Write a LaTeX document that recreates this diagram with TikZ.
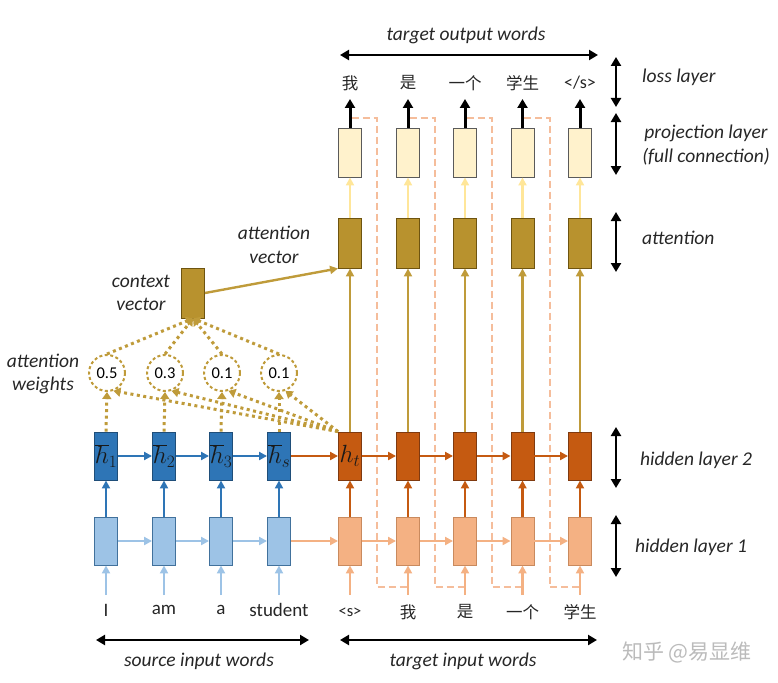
\documentclass[tikz,border=0pt]{standalone}
\usepackage{fontspec}
\setmainfont{Carlito}
\newfontfamily\cjk{Noto Sans CJK SC}
\usetikzlibrary{arrows.meta}
\definecolor{hblue}{HTML}{2E75B6}
\definecolor{hblueD}{HTML}{1F4E79}
\definecolor{lblue}{HTML}{9DC3E6}
\definecolor{lblueD}{HTML}{41719C}
\definecolor{horange}{HTML}{C55A11}
\definecolor{horangeD}{HTML}{7F3A10}
\definecolor{lorange}{HTML}{F4B183}
\definecolor{lorangeD}{HTML}{C98A5E}
\definecolor{dashor}{HTML}{F5BD9B}
\definecolor{gold}{HTML}{B8922E}
\definecolor{goldD}{HTML}{6E5410}
\definecolor{goldL}{HTML}{BF9B3A}
\definecolor{cream}{HTML}{FFF2CC}
\definecolor{creamD}{HTML}{5A5A5A}
\definecolor{lyellow}{HTML}{FFE699}
\definecolor{wm}{HTML}{BBBBBB}
\begin{document}
\begin{tikzpicture}[x=1pt,y=-1pt,
  box/.style={draw,line width=0.9pt,minimum width=23pt,minimum height=48pt,inner sep=0pt},
  ar/.style={line width=2.4pt,-{Triangle[length=8pt,width=8pt]}},
  blk/.style={line width=3pt,-{Triangle[length=9pt,width=10pt]}},
  dbl/.style={line width=2.6pt,{Triangle[length=9pt,width=10pt]}-{Triangle[length=9pt,width=10pt]}},
  dots/.style={goldL,line width=3pt,dash pattern=on 3pt off 3.5pt,-{Triangle[length=7pt,width=9pt]}},
  dsh/.style={dashor,line width=2pt,dash pattern=on 7pt off 4pt},
  wcirc/.style={circle,draw=goldL,line width=2pt,dash pattern=on 3pt off 2.5pt,minimum size=36pt,inner sep=0pt,font=\fontsize{16.5}{18}\selectfont},
  lbl/.style={font=\fontsize{19.5}{23.5}\selectfont\itshape,align=center,inner sep=0pt,text=black!85},
  word/.style={font=\fontsize{19}{20}\selectfont,inner sep=0pt,text=black!85},
  cword/.style={font=\cjk\fontsize{16.5}{18}\selectfont,inner sep=0pt,text=black!85},
  hlab/.style={font=\fontsize{24}{24}\selectfont,text=black!90}]
\useasboundingbox (0,0) rectangle (778,682);

% source columns
\foreach \x/\lab/\w [count=\i] in {106/1/I,164/2/am,221/3/a,279/s/student}{
  \node[box,fill=hblue,draw=hblueD,hlab] (s2-\i) at (\x,456) {$\overline{h}_{\lab}$};
  \node[box,fill=lblue,draw=lblueD] (s1-\i) at (\x,541) {};
  \coordinate (si-\i) at (\x,595);
  \node[word] (sw-\i) at (\x,610) {\w};
}
% target columns
\foreach \x [count=\i] in {350,408,465,522.5,580}{
  \node[box,fill=horange,draw=horangeD] (t2-\i) at (\x,456) {};
  \node[box,fill=lorange,draw=lorangeD] (t1-\i) at (\x,541) {};
  \node[box,fill=gold,draw=goldD,minimum height=50pt] (a-\i) at (\x,243) {};
  \node[box,fill=cream,draw=creamD,minimum height=49pt] (p-\i) at (\x,152.5) {};
  \coordinate (ti-\i) at (\x,595);
  \coordinate (to-\i) at (\x,99);
  \coordinate (ds-\i) at (\x+1.5,118);
  \coordinate (dc-\i) at (\x+27,118);
  \coordinate (dd-\i) at (\x+27,587);
  \coordinate (de-\i) at (\x,587);
}
\node[hlab] at (t2-1) {$h_t$};

% target input / output words
\node[word,font=\fontsize{16.5}{17}\selectfont] (tw-1) at (350,612) {<s>};
\node[cword] (tw-2) at (408,612) {我};
\node[cword] (tw-3) at (465,612) {是};
\node[cword] (tw-4) at (522.5,612) {一个};
\node[cword] (tw-5) at (580,612) {学生};
\node[cword] (ow-1) at (350,83) {我};
\node[cword] (ow-2) at (408,83) {是};
\node[cword] (ow-3) at (465,83) {一个};
\node[cword] (ow-4) at (522.5,83) {学生};
\node[word,font=\fontsize{18}{19}\selectfont] (ow-5) at (580,83) {</s>};

% dashed feedback lines
\foreach \i/\j in {1/2,2/3,3/4,4/5}
  \draw[dsh] (ds-\i) -- (dc-\i) -- (dd-\i) -- (de-\j);

% source arrows
\foreach \i in {1,...,4}{
  \draw[ar,lblue] (si-\i) -- (s1-\i);
  \draw[ar,hblue] (s1-\i) -- (s2-\i);
}
\foreach \i/\j in {1/2,2/3,3/4}{
  \draw[ar,lblue] (s1-\i) -- (s1-\j);
  \draw[ar,hblue] (s2-\i) -- (s2-\j);
}
\draw[ar,lorange] (s1-4) -- (t1-1);
\draw[ar,horange] (s2-4) -- (t2-1);

% target arrows
\foreach \i in {1,...,5}{
  \draw[ar,lorange] (ti-\i) -- (t1-\i);
  \draw[ar,horange] (t1-\i) -- (t2-\i);
  \draw[ar,goldL] (t2-\i) -- (a-\i);
  \draw[ar,lyellow] (a-\i) -- (p-\i);
  \draw[blk] (p-\i) -- (to-\i);
}
\foreach \i/\j in {1/2,2/3,3/4,4/5}{
  \draw[ar,lorange] (t1-\i) -- (t1-\j);
  \draw[ar,horange] (t2-\i) -- (t2-\j);
}

% attention weights and context
\node[box,fill=gold,draw=goldD,minimum height=50pt] (ctx) at (193,293) {};
\foreach \x/\v [count=\i] in {107/0.5,165/0.3,222/0.1,279/0.1}{
  \node[wcirc] (w-\i) at (\x,373) {\v};
}
\foreach \i in {1,...,4}{
  \draw[dots] (s2-\i.north) -- (w-\i.south);
  \draw[dots] (t2-1.north west) -- (w-\i.-70);
  \draw[dots] (w-\i.north) -- (ctx.south);
}
\draw[ar,goldL] (ctx.east) -- (a-1.south west);

% labels
\node[lbl] (lctx) at (141,293) {context\\vector};
\node[lbl] (latt) at (274,245) {attention\\vector};
\node[lbl] (lw) at (43,374) {attention\\weights};

% top and bottom ranges
\coordinate (tA) at (340,55); \coordinate (tB) at (598,55);
\draw[dbl] (tA) -- (tB);
\node[lbl] (ltop) at (466,35) {target output words};
\coordinate (bA) at (96,640); \coordinate (bB) at (309,640);
\coordinate (cA) at (340,640); \coordinate (cB) at (597,640);
\draw[dbl] (bA) -- (bB);
\draw[dbl] (cA) -- (cB);
\node[lbl] (lsrc) at (199,661) {source input words};
\node[lbl] (ltgt) at (463,661) {target input words};

% right side layer markers
\foreach \a/\b [count=\k] in {57/107,113/175,212/272,427/488,515/577}{
  \coordinate (rA-\k) at (616,\a); \coordinate (rB-\k) at (616,\b);
  \draw[dbl] (rA-\k) -- (rB-\k);
}
\node[lbl,anchor=west] (r1) at (642,77) {loss layer};
\node[lbl] (r2) at (706,145) {projection layer\\(full connection)};
\node[lbl,anchor=west] (r3) at (642,238) {attention};
\node[lbl,anchor=west] (r4) at (640,460) {hidden layer 2};
\node[lbl,anchor=west] (r5) at (635,547) {hidden layer 1};

% watermark
\node[font=\cjk\fontsize{21}{22}\selectfont,text=wm,inner sep=0pt] (wmk) at (687,652) {知乎 @易显维};
\end{tikzpicture}
\end{document}
